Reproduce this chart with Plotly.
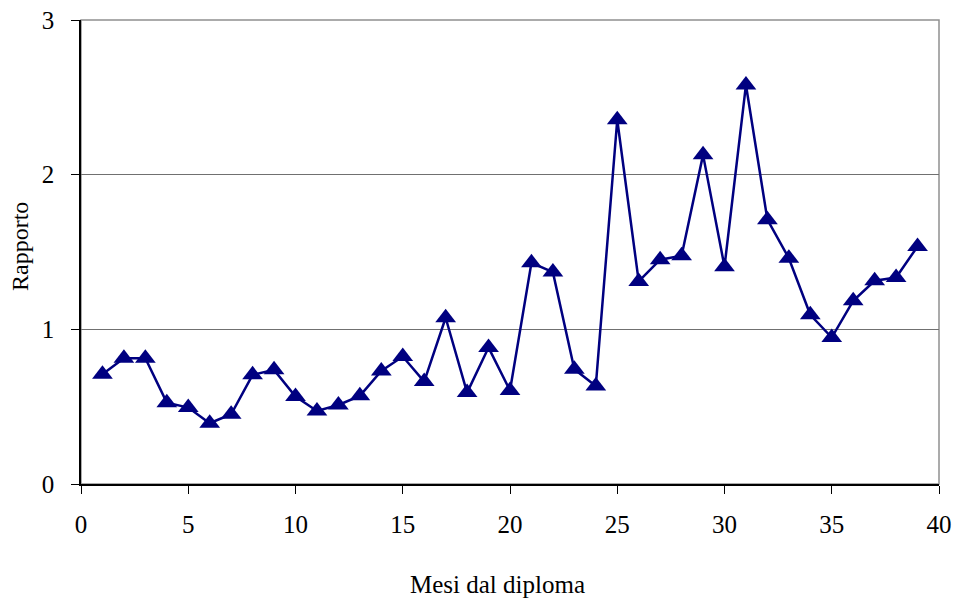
import plotly.graph_objects as go

mesi = list(range(1, 40))
rapporto = [0.71, 0.813, 0.813, 0.526, 0.494, 0.393, 0.451, 0.706, 0.738, 0.565,
            0.472, 0.511, 0.57, 0.731, 0.824, 0.662, 1.075, 0.591, 0.882, 0.605,
            1.43, 1.37, 0.742, 0.634, 2.355, 1.31, 1.45, 1.476, 2.128, 1.405,
            2.58, 1.709, 1.46, 1.094, 0.947, 1.184, 1.314, 1.335, 1.536]
x_ticks = [0, 5, 10, 15, 20, 25, 30, 35, 40]
y_ticks = [0, 1, 2, 3]

font_family = "Liberation Serif, Times New Roman, serif"

fig = go.Figure()
fig.add_trace(go.Scatter(
    x=mesi, y=rapporto, mode="lines+markers",
    line=dict(color="#000080", width=2.5),
    marker=dict(symbol="triangle-up", size=18, color="#000080"),
    showlegend=False, cliponaxis=False,
))

fig.update_layout(
    width=958, height=601,
    margin=dict(l=81, r=19, t=20, b=117),
    paper_bgcolor="white", plot_bgcolor="white",
    font=dict(family=font_family, size=25, color="black"),
    xaxis=dict(
        range=[0, 40], tickvals=x_ticks, ticks="outside", ticklen=8,
        tickcolor="black", showgrid=False, showline=True, linecolor="black",
        linewidth=1.5, zeroline=False, ticklabelstandoff=9, automargin=False,
        tickfont=dict(size=25),
    ),
    yaxis=dict(
        range=[0, 3], tickvals=y_ticks, ticks="outside", ticklen=8,
        tickcolor="black", showgrid=True, gridcolor="#707070", gridwidth=1,
        showline=True, linecolor="black", linewidth=1.5, zeroline=False,
        ticklabelstandoff=12, automargin=False,
        tickfont=dict(size=25),
    ),
    shapes=[dict(type="rect", xref="paper", yref="paper", x0=0, y0=0, x1=1, y1=1,
                 line=dict(color="#909090", width=1.5), layer="below")],
    annotations=[
        dict(text="Mesi dal diploma", xref="paper", yref="paper", x=0.486, y=-0.216,
             xanchor="center", yanchor="middle", showarrow=False,
             font=dict(size=25)),
        dict(text="Rapporto", xref="paper", yref="paper", x=-0.0711, y=0.513,
             xanchor="center", yanchor="middle", showarrow=False, textangle=-90,
             font=dict(size=24)),
    ],
)

fig.write_html("out.html")
